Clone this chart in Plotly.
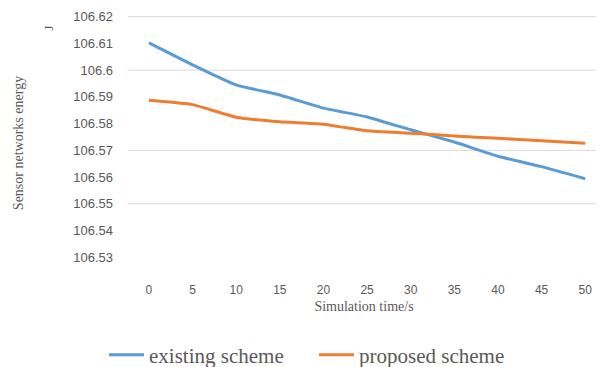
import plotly.graph_objects as go

time_s = [0, 5, 10, 15, 20, 25, 30, 35, 40, 45, 50]
existing_scheme = [106.6102, 106.6020, 106.5945, 106.5907, 106.5858, 106.5825,
                   106.5777, 106.5731, 106.5678, 106.5639, 106.5594]
proposed_scheme = [106.5887, 106.5871, 106.5824, 106.5807, 106.5798, 106.5773,
                   106.5764, 106.5754, 106.5745, 106.5736, 106.5727]
y_tick_vals = [106.53, 106.54, 106.55, 106.56, 106.57, 106.58, 106.59, 106.60, 106.61, 106.62]
grid_vals = [106.55, 106.57, 106.60, 106.62]
x_tick_vals = [0, 5, 10, 15, 20, 25, 30, 35, 40, 45, 50]

y_range = [106.5245, 106.621]
x_range = [-2.4, 51.7]
gray = "#595959"
serif = "Liberation Serif, Times New Roman, serif"
sans = "Liberation Sans, Arial, sans-serif"

fig = go.Figure()
fig.add_trace(go.Scatter(x=time_s, y=existing_scheme, mode="lines", name="existing scheme",
                         line=dict(color="#5B9BD5", width=3, shape="spline", smoothing=0.4)))
fig.add_trace(go.Scatter(x=time_s, y=proposed_scheme, mode="lines", name="proposed scheme",
                         line=dict(color="#ED7D31", width=3, shape="spline", smoothing=0.4)))

for g in grid_vals:
    fig.add_shape(type="line", xref="paper", x0=0, x1=1, yref="y", y0=g, y1=g,
                  line=dict(color="#d9d9d9", width=1), layer="below")

# the page body has an 8px default margin, so the figure is 8px smaller than the window
fig.update_layout(
    width=596, height=359,
    margin=dict(l=120, r=4, t=6, b=95, autoexpand=False),
    paper_bgcolor="white", plot_bgcolor="white",
    showlegend=True,
    legend=dict(orientation="h", x=-0.0508, xanchor="left", y=-0.322, yanchor="middle",
                font=dict(family=serif, size=21, color=gray), itemwidth=35,
                entrywidth=160, entrywidthmode="pixels", tracegroupgap=0),
    xaxis=dict(range=x_range, tickvals=x_tick_vals, showgrid=False, zeroline=False,
               showline=False, ticks="", tickfont=dict(family=sans, size=12, color=gray),
               ticklabelstandoff=9, automargin=False,
               title=dict(text="Simulation time/s", font=dict(family=serif, size=14, color=gray),
                          standoff=5)),
    yaxis=dict(range=y_range, tickvals=y_tick_vals, showgrid=False,
               zeroline=False, showline=False, ticks="", automargin=False,
               tickfont=dict(family=sans, size=13, color=gray), ticklabelstandoff=14,
               title=dict(text="Sensor networks energy", font=dict(family=serif, size=14, color=gray),
                          standoff=46)),
)

fig.add_annotation(text="J", xref="paper", yref="paper", x=-0.169, y=0.945, showarrow=False,
                   xanchor="center", yanchor="middle",
                   textangle=-90, font=dict(family=serif, size=13, color=gray))

fig.write_html("out.html")
